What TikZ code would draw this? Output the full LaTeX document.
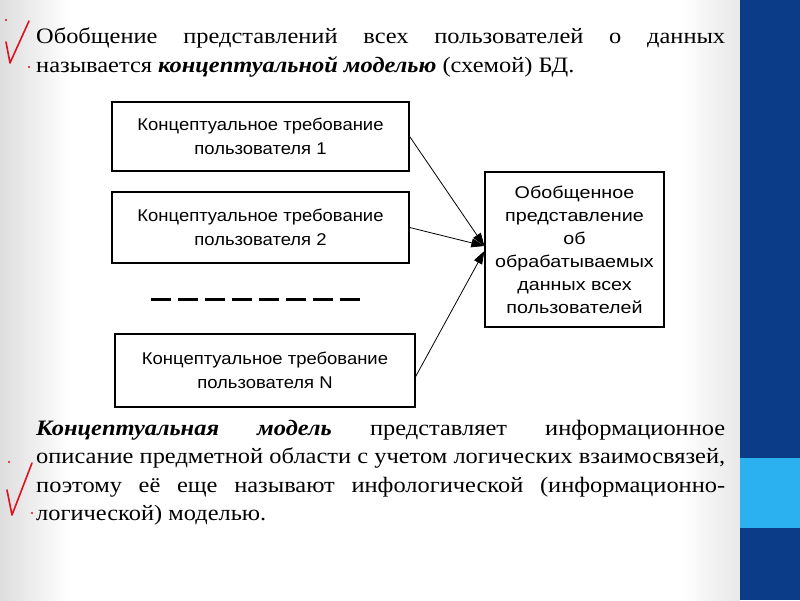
\documentclass[tikz,border=0pt]{standalone}
\usepackage{fontspec}
\setmainfont[FakeStretch=1.11]{Liberation Serif}
\newfontfamily\boxfont[FakeStretch=1.085]{Liberation Sans}
\newfontfamily\rboxfont[FakeStretch=1.16]{Liberation Sans}
\usetikzlibrary{arrows.meta}
\definecolor{barblue}{HTML}{0A3C87}
\definecolor{barlight}{HTML}{2BB0F0}
\definecolor{checkred}{HTML}{E0101E}
\begin{document}
\begin{tikzpicture}[x=1pt,y=-1pt,
  reqbox/.style={draw=black,line width=1.3pt,fill=white,inner sep=0pt,align=center,
    font=\boxfont\fontsize{17}{24}\selectfont},
  txt/.style={anchor=base west,inner sep=0pt,font=\fontsize{22}{28}\selectfont},
  conn/.style={line width=0.8pt,-{Triangle[length=13pt,width=9pt]}},
  check/.style={checkred,line width=1.6pt,line cap=round,line join=round}]
\useasboundingbox (0,0) rectangle (800,600);
% background
\fill[white] (0,0) rectangle (740,600);
\shade[left color=black!13,right color=white] (0,0) rectangle (70,600);
\shade[left color=white,right color=black!9] (680,0) rectangle (740,600);
% right bar
\fill[barblue] (740,0) rectangle (800,600);
\fill[barlight] (740,458) rectangle (800,528);
% top text
\node[txt] (t1) at (36,43) {\makebox[689pt][s]{Обобщение представлений всех пользователей о данных}};
\node[txt] (t2) at (36,72) {называется \textbf{\textit{концептуальной моделью}} (схемой) БД.};
% boxes
\node[reqbox,minimum width=297pt,minimum height=69pt] (b1) at (260.5,136.5) {Концептуальное требование\\пользователя 1};
\node[reqbox,minimum width=297pt,minimum height=71pt] (b2) at (260.5,227.5) {Концептуальное требование\\пользователя 2};
\node[reqbox,minimum width=300pt,minimum height=73pt] (b3) at (265,370.5) {Концептуальное требование\\пользователя N};
\node[reqbox,minimum width=179pt,minimum height=155pt,font=\rboxfont\fontsize{17}{23}\selectfont] (r) at (574.5,249.5)
  {Обобщенное\\представление\\об\\обрабатываемых\\данных всех\\пользователей};
% dashed separator
\draw[line width=3pt,dash pattern=on 19.5pt off 7.5pt] (151,299) -- (360,299);
% connectors
\draw[conn] (b1.east) -- ([yshift=3.5pt]r.west);
\draw[conn] (b2.east) -- ([yshift=3.5pt]r.west);
\draw[conn] ([yshift=-6pt]b3.east) -- ([yshift=-1.5pt]r.west);
% bottom text
\node[txt] (p1) at (36,435) {\makebox[689pt][s]{\textbf{\textit{Концептуальная модель}} представляет информационное}};
\node[txt] (p2) at (36,463) {\makebox[689pt][s]{описание предметной области с учетом логических взаимосвязей,}};
\node[txt] (p3) at (36,492) {\makebox[689pt][s]{поэтому её еще называют инфологической (информационно-}};
\node[txt] (p4) at (36,520) {логической) моделью.};
% check marks
\draw[check] (6,42) -- (10,63) -- (29,21);
\fill[checkred] (6,20) circle (1.1pt) (29,67) circle (1.1pt);
\draw[check] (7,490) -- (12,515) -- (32,463);
\fill[checkred] (9,462) circle (1.1pt) (32,513) circle (1.1pt);
\end{tikzpicture}
\end{document}
